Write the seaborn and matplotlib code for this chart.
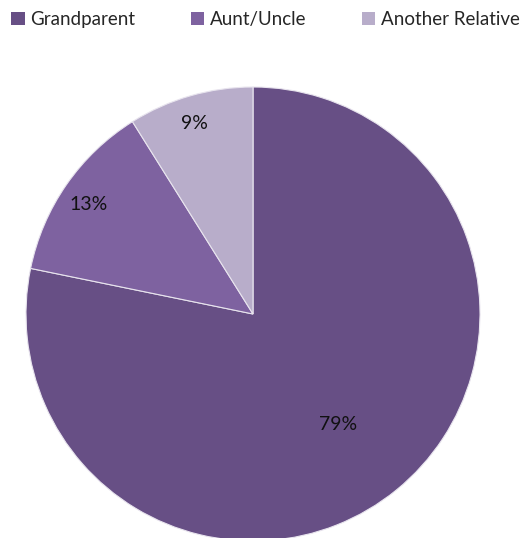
import matplotlib
matplotlib.use("Agg")
import matplotlib.pyplot as plt
import seaborn as sns
import numpy as np
from matplotlib.patches import Patch

categories = ["Grandparent", "Aunt/Uncle", "Another Relative"]
values = [79, 13, 9]
labels = ["79%", "13%", "9%"]
colors = ["#674F85", "#7E62A0", "#B8ADCA"]
label_dist = [0.61, 0.87, 0.89]

sns.set_theme(style="white")
plt.rcParams["font.family"] = ["Lato", "DejaVu Sans"]

fig = plt.figure(figsize=(5.26, 5.38), dpi=100)
ax = fig.add_axes([26/526, (538-314-227)/538, 454/526, 454/538])
wedges, _ = ax.pie(values, colors=colors, startangle=90, counterclock=False,
                   wedgeprops=dict(edgecolor="#E8E4EE", linewidth=0.8))
for w, lab, d in zip(wedges, labels, label_dist):
    ang = np.deg2rad((w.theta1 + w.theta2) / 2)
    ax.text(d*np.cos(ang) - 0.01, d*np.sin(ang) - 0.015, lab, ha="center", va="center",
            fontsize=14, color="#111111")
ax.set_xlim(-1, 1)
ax.set_ylim(-1, 1)
ax.axis("off")

handles = [Patch(facecolor=c, edgecolor="none") for c in colors]
fig.legend(handles, categories, loc="upper left", bbox_to_anchor=(0.0, 1.0),
           ncol=3, frameon=False, fontsize=13.5, handlelength=0.72, handleheight=0.72,
           handletextpad=0.3, columnspacing=2.95, borderaxespad=0.2)

fig.savefig("out.png", dpi=100)
